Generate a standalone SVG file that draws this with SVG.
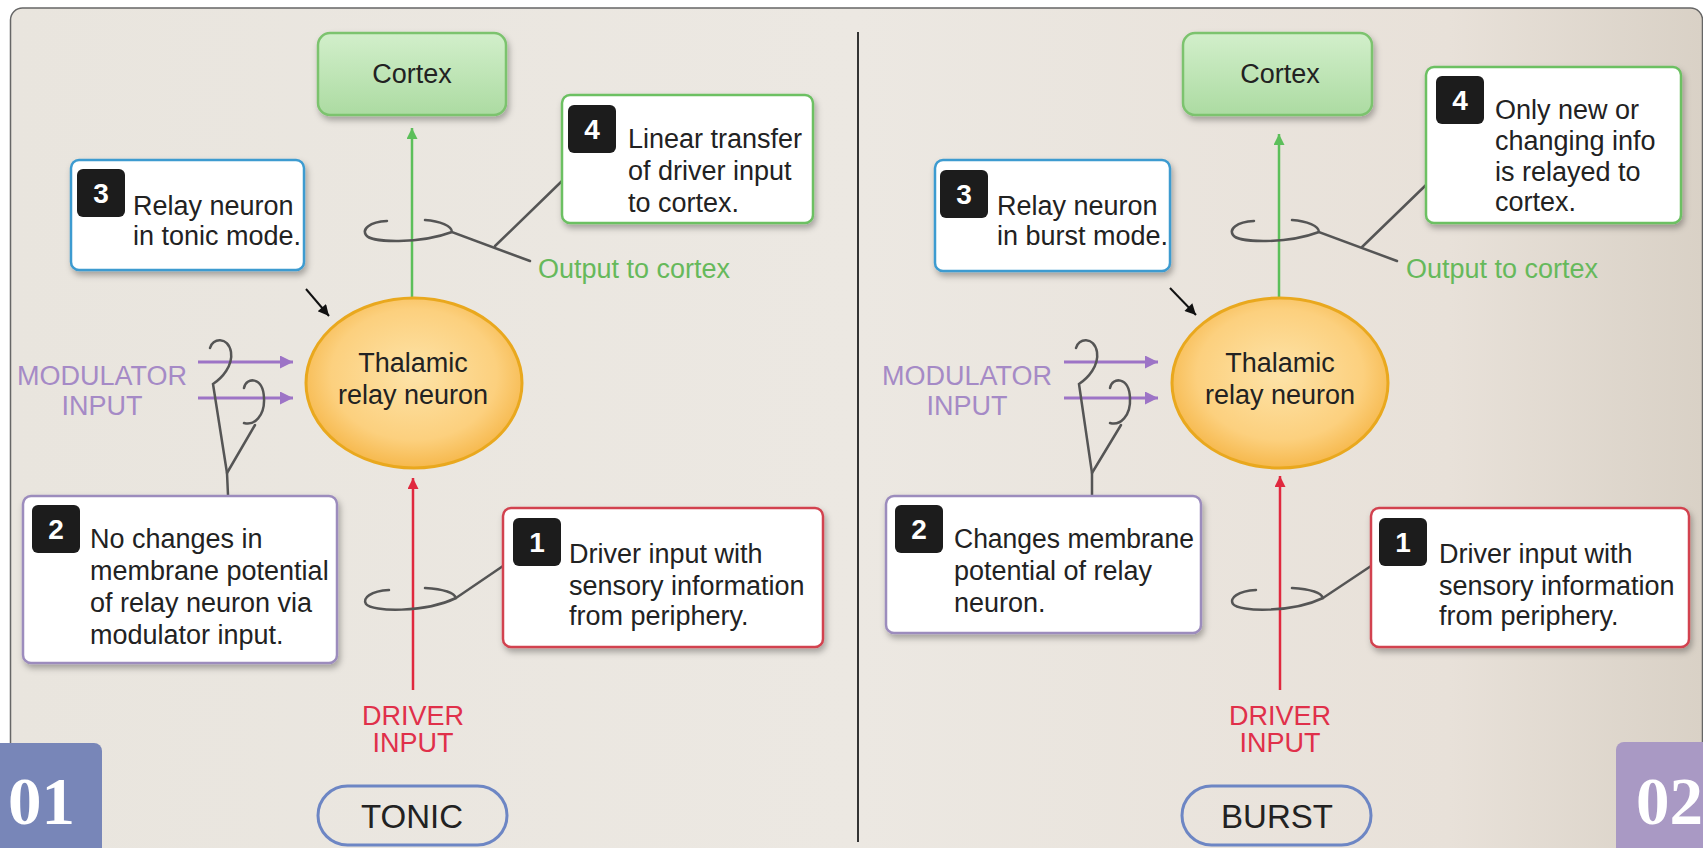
<svg xmlns="http://www.w3.org/2000/svg" width="1703" height="848" viewBox="0 0 1703 848">
<defs>
  <linearGradient id="bg" x1="0" y1="0" x2="1" y2="0">
    <stop offset="0" stop-color="#e9e5de"/>
    <stop offset="0.5" stop-color="#ece8e2"/>
    <stop offset="0.85" stop-color="#e8e1d9"/>
    <stop offset="1" stop-color="#d9d1c6"/>
  </linearGradient>
  <linearGradient id="gCortex" x1="0" y1="0" x2="0" y2="1">
    <stop offset="0" stop-color="#d2efcb"/>
    <stop offset="1" stop-color="#acdba2"/>
  </linearGradient>
  <radialGradient id="gCell" cx="0.5" cy="0.45" r="0.55">
    <stop offset="0" stop-color="#fde3a8"/>
    <stop offset="0.7" stop-color="#fcd07e"/>
    <stop offset="1" stop-color="#f6b84c"/>
  </radialGradient>
  <filter id="sh" x="-10%" y="-10%" width="125%" height="135%">
    <feDropShadow dx="2" dy="4" stdDeviation="3" flood-color="#000" flood-opacity="0.3"/>
  </filter>
  <marker id="ahG" viewBox="0 0 10 10" refX="10" refY="5" markerWidth="14" markerHeight="11" markerUnits="userSpaceOnUse" orient="auto"><path d="M0,0 L10,5 L0,10 z" fill="#5cbf5a"/></marker>
  <marker id="ahR" viewBox="0 0 10 10" refX="10" refY="5" markerWidth="14" markerHeight="11" markerUnits="userSpaceOnUse" orient="auto"><path d="M0,0 L10,5 L0,10 z" fill="#e0283e"/></marker>
  <marker id="ahP" viewBox="0 0 10 10" refX="10" refY="5" markerWidth="17" markerHeight="13" markerUnits="userSpaceOnUse" orient="auto"><path d="M0,0 L10,5 L0,10 z" fill="#9d74c6"/></marker>
  <marker id="ahK" viewBox="0 0 10 10" refX="10" refY="5" markerWidth="13" markerHeight="11" markerUnits="userSpaceOnUse" orient="auto"><path d="M0,0 L10,5 L0,10 z" fill="#111"/></marker>
</defs>
<style>
  .t{font-family:"Liberation Sans",Arial,sans-serif;font-size:27px;fill:#222}
  .c{text-anchor:middle}
  .num{font-family:"Liberation Sans",Arial,sans-serif;font-size:28px;font-weight:bold;fill:#fff;text-anchor:middle}
  .badge{fill:#1c1c1c}
  .box{fill:#fff;stroke-width:2.5;filter:url(#sh)}
  .b1{stroke:#d2434f}
  .b2{stroke:#9c8cbd}
  .b3{stroke:#3d9bd0}
  .b4{stroke:#6cc062}
  .cortex{fill:url(#gCortex);stroke:#7cc36e;stroke-width:2.5;filter:url(#sh)}
  .cell{fill:url(#gCell);stroke:#e9a81e;stroke-width:3}
  .coil{fill:none;stroke:#555;stroke-width:2.5;stroke-linecap:round}
  .ag{stroke:#5cbf5a;stroke-width:2.5}
  .ar{stroke:#e0283e;stroke-width:2.5}
  .ap{stroke:#9d74c6;stroke-width:3}
  .ak{stroke:#111;stroke-width:2}
  .mod{fill:#a58ac6}
  .drv{fill:#e0304a}
  .out{fill:#66b95b}
  .pill{fill:none;stroke:#6d86c4;stroke-width:3}
  .pt{font-size:33px}
  .big{font-family:"Liberation Serif","Times New Roman",serif;font-size:67px;font-weight:bold;fill:#fff}
</style>

<rect x="0" y="0" width="1703" height="848" fill="#ffffff"/>
<rect x="10.5" y="8" width="1692" height="900" rx="12" fill="url(#bg)" stroke="#666" stroke-width="1.5"/>
<line x1="858" y1="32" x2="858" y2="842" stroke="#333" stroke-width="2"/>

<!-- LEFT PANEL: TONIC -->
<g id="tonic">
  <g id="connectors-tonic">
    <line class="ag" x1="412" y1="298" x2="412" y2="128" marker-end="url(#ahG)"/>
    <line class="ar" x1="413" y1="690" x2="413" y2="478" marker-end="url(#ahR)"/>
    <line class="ap" x1="198" y1="362" x2="293" y2="362" marker-end="url(#ahP)"/>
    <line class="ap" x1="198" y1="398" x2="293" y2="398" marker-end="url(#ahP)"/>
    <line class="ak" x1="306" y1="289" x2="329" y2="316" marker-end="url(#ahK)"/>
    <path class="coil" d="M387,221 C369,222 362,229 366,235 C371,243 420,244 452,232 L530,261"/>
    <path class="coil" d="M425,220 C440,221 452,226 452,232"/>
    <path class="coil" d="M562,181 L495,246"/>
    <path class="coil" d="M389,590 C371,591 362,598 366,604 C372,612 425,613 456,598 L503,566"/>
    <path class="coil" d="M425,588 C441,589 454,592 456,598"/>
    <path class="coil" d="M210,348 C212,338 228,336 231,352 C233,366 222,378 213,384 L227,473 L228,495"/>
    <path class="coil" d="M244,388 C246,377 263,376 264,398 C265,416 254,426 244,423"/>
    <path class="coil" d="M255,425 L227,473"/>
  </g>
  <g id="cortex-tonic">
    <rect class="cortex" x="318" y="33" width="188" height="82" rx="12"/>
    <text class="t c" x="412" y="83">Cortex</text>
  </g>
  <g id="cell-tonic">
    <ellipse class="cell" cx="414" cy="383" rx="108" ry="85"/>
    <text class="t c" x="413" y="372">Thalamic</text>
    <text class="t c" x="413" y="404">relay neuron</text>
  </g>
  <g id="step3-tonic">
    <rect class="box b3" x="71" y="160" width="233" height="110" rx="8"/>
    <rect class="badge" x="77" y="169" width="48" height="48" rx="6"/>
    <text class="num" x="101" y="203">3</text>
    <text class="t" x="133" y="215">Relay neuron</text>
    <text class="t" x="133" y="245">in tonic mode.</text>
  </g>
  <g id="step4-tonic">
    <rect class="box b4" x="562" y="95" width="251" height="128" rx="8"/>
    <rect class="badge" x="568" y="105" width="48" height="48" rx="6"/>
    <text class="num" x="592" y="139">4</text>
    <text class="t" x="628" y="148">Linear transfer</text>
    <text class="t" x="628" y="180">of driver input</text>
    <text class="t" x="628" y="212">to cortex.</text>
  </g>
  <g id="step2-tonic">
    <rect class="box b2" x="23" y="496" width="314" height="167" rx="8"/>
    <rect class="badge" x="32" y="505" width="48" height="48" rx="6"/>
    <text class="num" x="56" y="539">2</text>
    <text class="t" x="90" y="548">No changes in</text>
    <text class="t" x="90" y="580">membrane potential</text>
    <text class="t" x="90" y="612">of relay neuron via</text>
    <text class="t" x="90" y="644">modulator input.</text>
  </g>
  <g id="step1-tonic">
    <rect class="box b1" x="503" y="508" width="320" height="139" rx="8"/>
    <rect class="badge" x="513" y="518" width="48" height="48" rx="6"/>
    <text class="num" x="537" y="552">1</text>
    <text class="t" x="569" y="563">Driver input with</text>
    <text class="t" x="569" y="595">sensory information</text>
    <text class="t" x="569" y="625">from periphery.</text>
  </g>
  <g id="labels-tonic">
    <text class="t out" x="538" y="278">Output to cortex</text>
    <text class="t mod c" x="102" y="385">MODULATOR</text>
    <text class="t mod c" x="102" y="415">INPUT</text>
    <text class="t drv c" x="413" y="725">DRIVER</text>
    <text class="t drv c" x="413" y="752">INPUT</text>
  </g>
  <g id="mode-tonic">
    <rect class="pill" x="318" y="786" width="189" height="59" rx="29.5"/>
    <text class="t pt c" x="412" y="828">TONIC</text>
  </g>
</g>

<!-- RIGHT PANEL: BURST -->
<g id="burst" transform="translate(866,0)">
  <g id="connectors-burst">
    <line class="ag" x1="413" y1="298" x2="413" y2="134" marker-end="url(#ahG)"/>
    <line class="ar" x1="414" y1="690" x2="414" y2="476" marker-end="url(#ahR)"/>
    <line class="ap" x1="198" y1="362" x2="292" y2="362" marker-end="url(#ahP)"/>
    <line class="ap" x1="198" y1="398" x2="292" y2="398" marker-end="url(#ahP)"/>
    <line class="ak" x1="304" y1="288" x2="330" y2="315" marker-end="url(#ahK)"/>
    <path class="coil" d="M388,221 C370,222 363,229 367,235 C372,243 421,244 453,232 L531,261"/>
    <path class="coil" d="M426,220 C441,221 453,226 453,232"/>
    <path class="coil" d="M560,185 L496,247"/>
    <path class="coil" d="M390,590 C372,591 363,598 367,604 C373,612 426,613 457,598 L505,566"/>
    <path class="coil" d="M426,588 C442,589 455,592 457,598"/>
    <path class="coil" d="M210,348 C212,338 228,336 231,352 C233,366 222,378 213,384 L226,473 L226,495"/>
    <path class="coil" d="M244,388 C246,377 263,376 264,398 C265,416 254,426 244,423"/>
    <path class="coil" d="M255,425 L226,473"/>
  </g>
  <g id="cortex-burst">
    <rect class="cortex" x="317" y="33" width="189" height="82" rx="12"/>
    <text class="t c" x="414" y="83">Cortex</text>
  </g>
  <g id="cell-burst">
    <ellipse class="cell" cx="414" cy="383" rx="108" ry="85"/>
    <text class="t c" x="414" y="372">Thalamic</text>
    <text class="t c" x="414" y="404">relay neuron</text>
  </g>
  <g id="step3-burst">
    <rect class="box b3" x="69" y="160" width="235" height="111" rx="8"/>
    <rect class="badge" x="74" y="170" width="48" height="48" rx="6"/>
    <text class="num" x="98" y="204">3</text>
    <text class="t" x="131" y="215">Relay neuron</text>
    <text class="t" x="131" y="245">in burst mode.</text>
  </g>
  <g id="step4-burst">
    <rect class="box b4" x="560" y="67" width="255" height="156" rx="8"/>
    <rect class="badge" x="570" y="76" width="48" height="48" rx="6"/>
    <text class="num" x="594" y="110">4</text>
    <text class="t" x="629" y="119">Only new or</text>
    <text class="t" x="629" y="150">changing info</text>
    <text class="t" x="629" y="181">is relayed to</text>
    <text class="t" x="629" y="211">cortex.</text>
  </g>
  <g id="step2-burst">
    <rect class="box b2" x="20" y="496" width="315" height="137" rx="8"/>
    <rect class="badge" x="29" y="505" width="48" height="48" rx="6"/>
    <text class="num" x="53" y="539">2</text>
    <text class="t" x="88" y="548" textLength="240" lengthAdjust="spacingAndGlyphs">Changes membrane</text>
    <text class="t" x="88" y="580">potential of relay</text>
    <text class="t" x="88" y="612">neuron.</text>
  </g>
  <g id="step1-burst">
    <rect class="box b1" x="505" y="508" width="318" height="139" rx="8"/>
    <rect class="badge" x="513" y="518" width="48" height="48" rx="6"/>
    <text class="num" x="537" y="552">1</text>
    <text class="t" x="573" y="563">Driver input with</text>
    <text class="t" x="573" y="595">sensory information</text>
    <text class="t" x="573" y="625">from periphery.</text>
  </g>
  <g id="labels-burst">
    <text class="t out" x="540" y="278">Output to cortex</text>
    <text class="t mod c" x="101" y="385">MODULATOR</text>
    <text class="t mod c" x="101" y="415">INPUT</text>
    <text class="t drv c" x="414" y="725">DRIVER</text>
    <text class="t drv c" x="414" y="752">INPUT</text>
  </g>
  <g id="mode-burst">
    <rect class="pill" x="316" y="786" width="189" height="59" rx="29.5"/>
    <text class="t pt c" x="411" y="828">BURST</text>
  </g>
</g>

<!-- corner tags -->
<g id="tag01">
  <path d="M0,743 H94 A8,8 0 0 1 102,751 V848 H0 Z" fill="#7886b8"/>
  <text class="big" x="8" y="824">01</text>
</g>
<g id="tag02">
  <path d="M1624,742 H1703 V848 H1616 V750 A8,8 0 0 1 1624,742 Z" fill="#a999c4"/>
  <text class="big" x="1636" y="824">02</text>
</g>
</svg>
